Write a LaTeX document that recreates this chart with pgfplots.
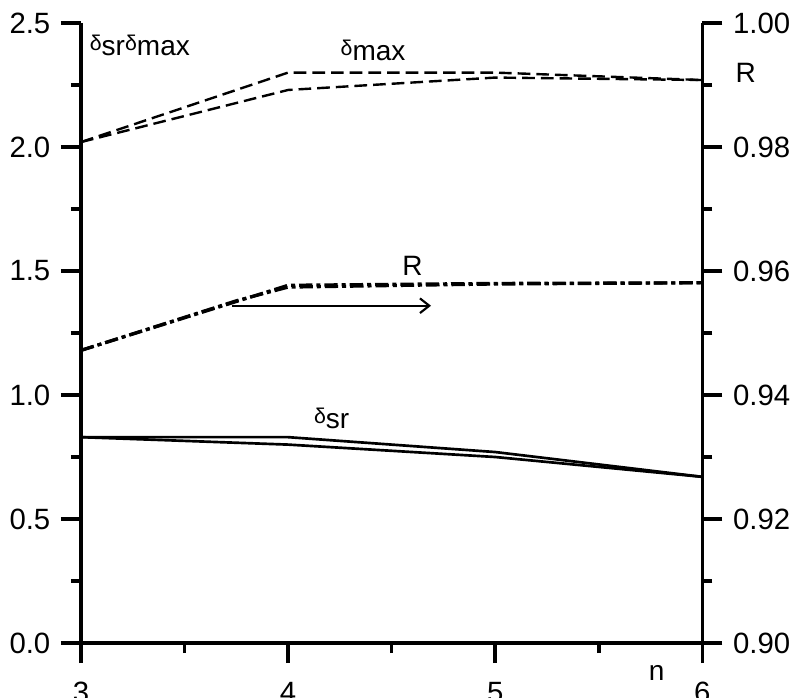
\documentclass[border=0pt]{standalone}
\usepackage{fontspec}
\setmainfont{Liberation Sans}
\usepackage{pgfplots}
\pgfplotsset{compat=1.18}
\usetikzlibrary{arrows.meta}

\newcommand{\dl}{\raisebox{0.35ex}{\fontsize{16}{16}\selectfont δ}}

\pgfplotsset{
  common/.style={
    at={(0,0)}, anchor=south west,
    scale only axis, width=466pt, height=465pt,
    xmin=3, xmax=6,
    tick align=outside,
    major tick length=15pt, minor tick length=7.5pt,
    axis line style={-, line width=2.6pt},
    every tick/.style={line width=2.6pt, black},
    tick label style={font=\fontsize{22}{26}\selectfont},
    /pgf/number format/assume math mode=true,
    clip=false,
  },
}

\begin{document}
\begin{tikzpicture}
\begin{axis}[common,
  axis x line*=bottom, axis y line*=left,
  ymin=0, ymax=2.5,
  xtick={3,4,5,6}, minor x tick num=1,
  ytick={0,0.5,1,1.5,2,2.5}, minor y tick num=1,
  xticklabel style={yshift=-11pt},
  yticklabel style={xshift=-4.5pt, /pgf/number format/.cd, fixed, fixed zerofill, precision=1},
]
% delta_max
\addplot[black, line width=1.8pt, dash pattern=on 9.5pt off 4.5pt] coordinates {
  (3,2.02) (4,2.30) (5,2.30) (6,2.27)
};
\addplot[black, line width=1.8pt, dash pattern=on 9.5pt off 4.5pt] coordinates {
  (3,2.02) (4,2.23) (5,2.28) (6,2.27)
};
% delta_sr
\addplot[black, line width=2pt] coordinates {
  (3,0.83) (4,0.83) (5,0.77) (6,0.67)
};
\addplot[black, line width=2pt] coordinates {
  (3,0.83) (4,0.80) (5,0.75) (6,0.67)
};
% arrow towards right axis
\addplot[black, line width=1.6pt, -{Straight Barb[length=7pt, width=11pt]}] coordinates {
  (3.73,1.36) (4.69,1.36)
};
\node[anchor=west, font=\fontsize{21}{24}\selectfont] at (axis cs:3.02,2.41) {\dl sr\dl max};
\node[font=\fontsize{21}{24}\selectfont] at (axis cs:4.41,2.39) {\dl max};
\node[font=\fontsize{21}{24}\selectfont] at (axis cs:4.60,1.52) {R};
\node[font=\fontsize{21}{24}\selectfont] at (axis cs:4.21,0.905) {\dl sr};
\node[font=\fontsize{21}{24}\selectfont] at (axis cs:6.21,2.30) {R};
\node[font=\fontsize{21}{24}\selectfont] at (axis cs:5.78,-0.12) {n};
\end{axis}
\begin{axis}[common,
  axis x line=none, axis y line*=right,
  ymin=0.90, ymax=1.00,
  ytick={0.90,0.92,0.94,0.96,0.98,1.00}, minor y tick num=1,
  yticklabel style={xshift=4.5pt, /pgf/number format/.cd, fixed, fixed zerofill, precision=2},
]
% R
\addplot[black, line width=2.4pt, dash pattern=on 10pt off 3pt on 3pt off 3pt] coordinates {
  (3,0.9472) (4,0.9577) (5,0.9580) (6,0.9581)
};
\addplot[black, line width=2.4pt, dash pattern=on 10pt off 3pt on 3pt off 3pt] coordinates {
  (3,0.9472) (3.75,0.9552) (4,0.9574) (5,0.9579) (6,0.9581)
};
\end{axis}
\pgfresetboundingbox
\path[use as bounding box] (-60.75pt,-40.5pt) rectangle (533.25pt,482.25pt);
\end{tikzpicture}
\end{document}
